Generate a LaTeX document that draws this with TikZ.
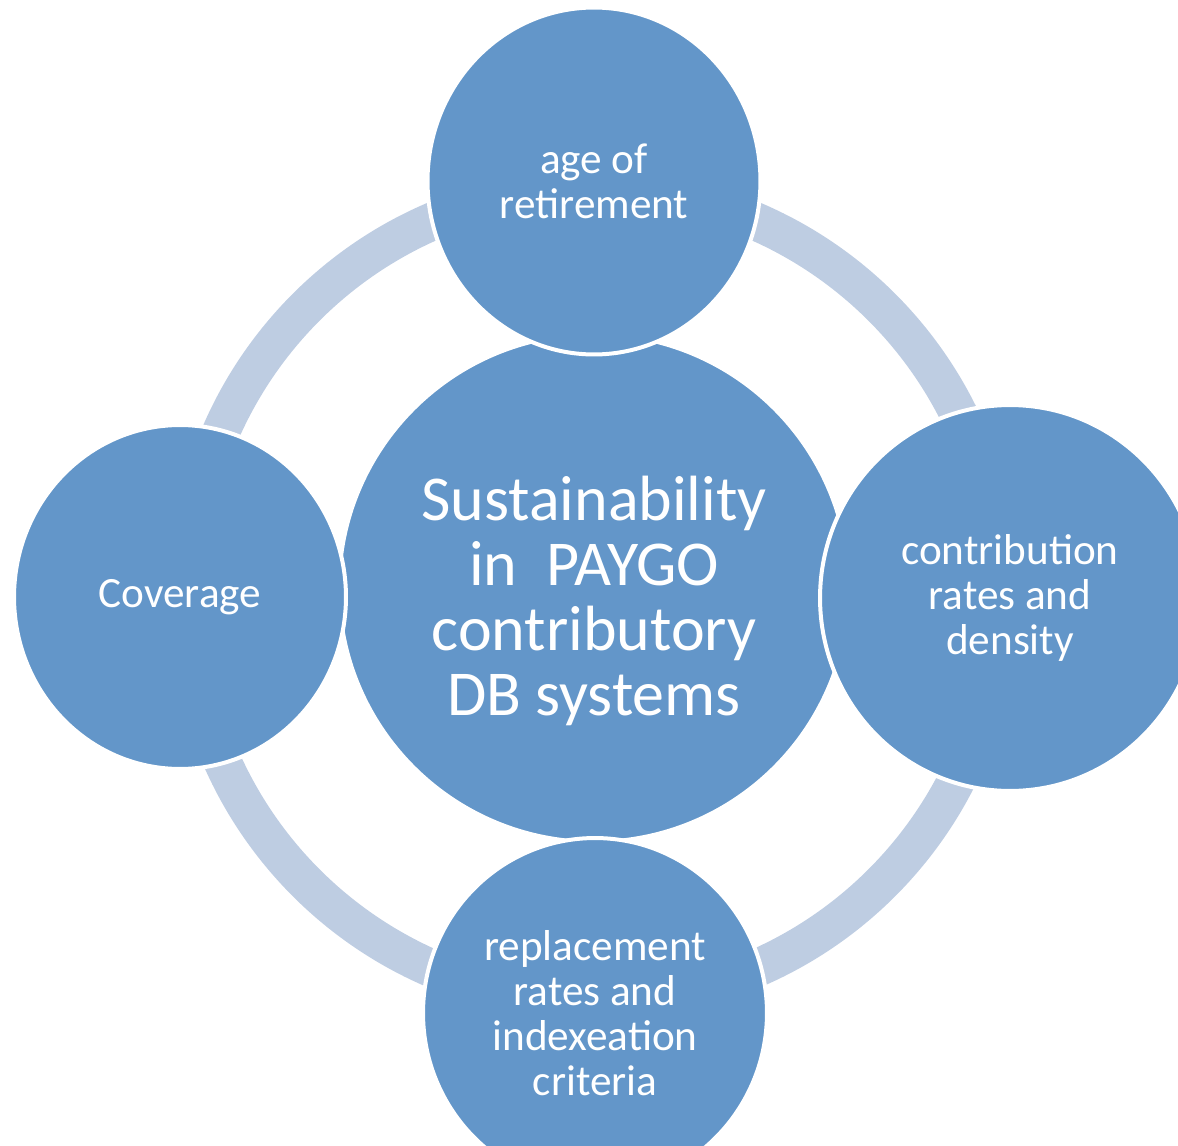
\documentclass[tikz,border=0pt]{standalone}
\usepackage{fontspec}
\setmainfont{Carlito}
\usetikzlibrary{shapes.geometric}
\definecolor{bubbleblue}{RGB}{99,150,201}
\definecolor{ringblue}{RGB}{190,205,226}

\begin{document}
\begin{tikzpicture}
[x=0.02cm, y=-0.02cm,
bubble/.style={ellipse, fill=bubbleblue, draw=white, line width=0.08cm, text=white, align=center, inner sep=0pt, font={\fontsize{24.6}{25.6}\selectfont}},
hub/.style={bubble, minimum width=10.2cm, minimum height=10.16cm},
hub text/.style={text=white, align=center, font={\fontsize{36.4}{37}\selectfont}, yshift=-0.26cm},
ring/.style={draw=ringblue, line width=0.76cm}]
    \useasboundingbox (0,0) rectangle (1178,1146);
    \clip (0,0) rectangle (1178,1146);
    % cycle ring behind the bubbles
    \coordinate (ringc) at (594,595);
    \draw[ring] (ringc) circle [radius=407];
    \node[hub, label={[hub text]center:{Sustainability\\in\ \ PAYGO\\contributory\\DB systems}}] (hub) at (594,588) {};
    \node[bubble, minimum width=6.66cm, minimum height=6.94cm] (retire) at (594,181) {age of\\retirement};
    \node[bubble, minimum width=7.6cm, minimum height=7.72cm] (contrib) at (1010,598) {contribution\\rates and\\density};
    \node[bubble, minimum width=6.88cm, minimum height=7cm] (replace) at (595,1013) {replacement\\rates and\\indexeation\\criteria};
    \node[bubble, minimum width=6.64cm, minimum height=6.88cm] (coverage) at (180,597) {Coverage};
\end{tikzpicture}
\end{document}
